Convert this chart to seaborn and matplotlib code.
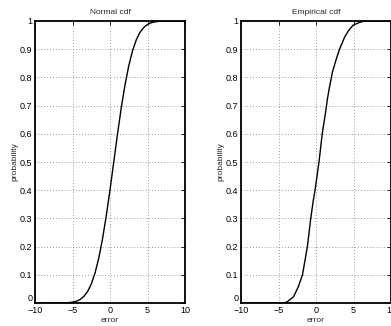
import numpy as np
import pandas as pd
import seaborn as sns
import matplotlib.pyplot as plt

sns.set_style('white')
plt.rcParams['font.family'] = ['Liberation Sans', 'DejaVu Sans']

# normal cdf
normal_x = [-10, -6, -5.5, -5, -4.5, -4, -3.5, -3, -2.5, -2, -1.5, -1, -0.5, 0,
            0.5, 1, 1.5, 2, 2.5, 3, 3.5, 4, 4.5, 5, 5.5, 6, 6.5, 7, 10]
normal_p = [0, 0.0006, 0.0013, 0.003, 0.006, 0.012, 0.023, 0.040, 0.067, 0.106,
            0.159, 0.227, 0.309, 0.401, 0.5, 0.599, 0.692, 0.773, 0.841, 0.894,
            0.933, 0.960, 0.977, 0.988, 0.994, 0.997, 0.9987, 0.9994, 1.0]

# empirical cdf
emp_x = [-10, -4.5, -3.9, -3.0, -2.35, -1.8, -1.15, -0.7, -0.36, -0.13, 0.4,
         0.83, 1.28, 1.5, 1.76, 2.2, 2.74, 3.18, 3.84, 4.37, 4.94, 5.8, 6.5, 10]
emp_p = [0, 0, 0.003, 0.022, 0.058, 0.1, 0.2, 0.3, 0.364, 0.4, 0.5,
         0.6, 0.677, 0.72, 0.76, 0.82, 0.868, 0.903, 0.944, 0.967, 0.985, 0.995, 1.0, 1.0]

panels = [('Normal cdf', normal_x, normal_p), ('Empirical cdf', emp_x, emp_p)]

fig = plt.figure(figsize=(3.91, 3.26), dpi=100)
W, H = 391, 326
boxes = [(35, 21, 150, 282), (241, 21, 150, 282)]

for (title, xs, ps), (l, t, w, h) in zip(panels, boxes):
    ax = fig.add_axes([l / W, (H - t - h) / H, w / W, h / H])
    df = pd.DataFrame({'error': xs, 'probability': ps})
    sns.lineplot(data=df, x='error', y='probability', ax=ax, color='black',
                 linewidth=1.0, sort=False)
    ax.set_xlim(-10, 10)
    ax.set_ylim(0, 1)
    ax.set_xticks([-10, -5, 0, 5, 10])
    ax.set_xticklabels(['\u221210', '\u22125', '0', '5', '10'])
    yt = [0, 0.1, 0.2, 0.3, 0.4, 0.5, 0.6, 0.7, 0.8, 0.9, 1]
    ax.set_yticks(yt)
    ax.set_yticklabels(['0'] + ['%.1f' % v for v in yt[1:-1]] + ['1'])
    ax.get_yticklabels()[0].set_verticalalignment('bottom')
    ax.grid(True, linestyle=(0, (1, 2.5)), color='#777777', linewidth=0.6)
    ax.tick_params(direction='in', length=3, width=0.6, labelsize=6.5,
                   top=True, right=True, pad=2, colors='black')
    for s in ax.spines.values():
        s.set_color('black')
        s.set_linewidth(1.3)
    ax.set_title(title, fontsize=6, pad=5)
    ax.set_xlabel('error', fontsize=6, labelpad=1.5)
    ax.set_ylabel('probability', fontsize=6, labelpad=1)

fig.savefig('out.png', dpi=100)
